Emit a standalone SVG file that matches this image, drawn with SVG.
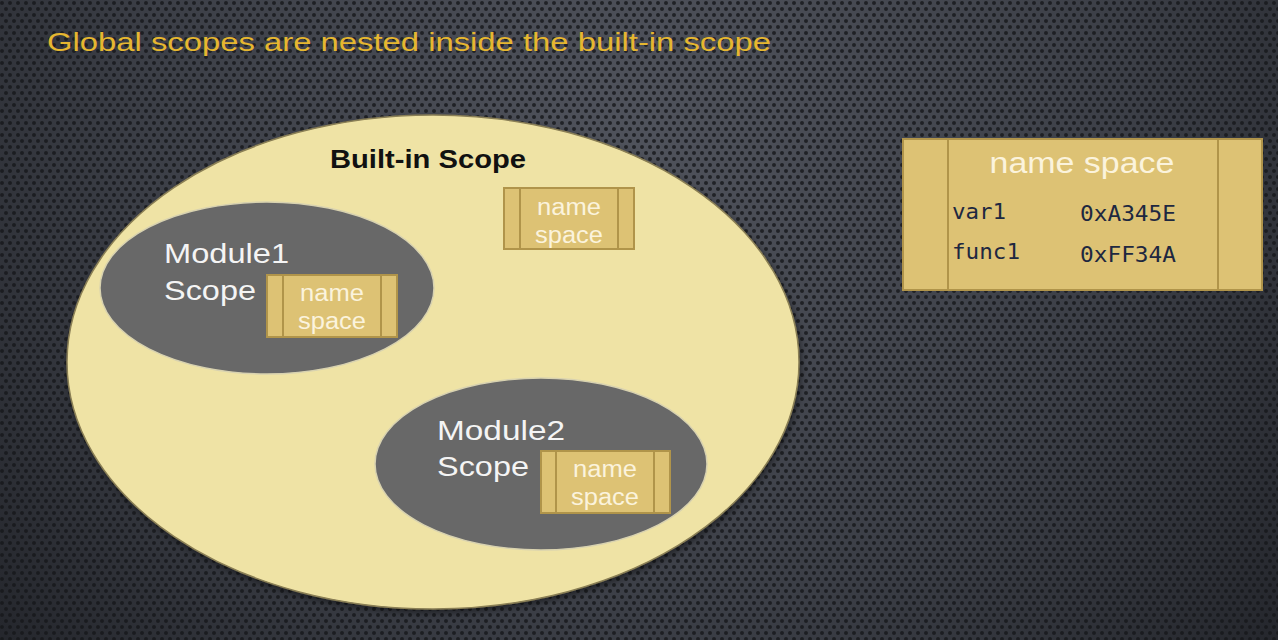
<svg xmlns="http://www.w3.org/2000/svg" width="1278" height="640" viewBox="0 0 1278 640">
  <defs>
    <radialGradient id="bgGlow" cx="640" cy="120" r="820" gradientUnits="userSpaceOnUse">
      <stop offset="0" stop-color="#50535c"/>
      <stop offset="0.6" stop-color="#3c3f47"/>
      <stop offset="1" stop-color="#25272d"/>
    </radialGradient>
    <pattern id="dots" width="8" height="12" patternUnits="userSpaceOnUse">
      <circle cx="2" cy="3" r="2" fill="#15161a" fill-opacity="0.8"/>
      <circle cx="6" cy="9" r="2" fill="#15161a" fill-opacity="0.8"/>
    </pattern>
    <filter id="shadow" x="-10%" y="-10%" width="120%" height="120%">
      <feDropShadow dx="2" dy="3" stdDeviation="3" flood-color="#000" flood-opacity="0.45"/>
    </filter>
  </defs>
  <style>
    .title { font-family: "Liberation Sans", Arial, sans-serif; font-size: 26px; fill: #e6b730; }
    .scope { fill: #686868; stroke: #d8d2b0; stroke-width: 1.5; }
    .scopeLabel { font-family: "Liberation Sans", Arial, sans-serif; font-size: 28px; fill: #f4f4f4; }
    .ns { fill: #ddc274; stroke: #b0944a; stroke-width: 2; }
    .nsLine { stroke: #b0944a; stroke-width: 2; }
    .nsText { font-family: "Liberation Sans", Arial, sans-serif; font-size: 23px; fill: #fbf3dc; text-anchor: middle; }
    .nsTitle { font-family: "Liberation Sans", Arial, sans-serif; font-size: 29px; fill: #fbf3dc; text-anchor: middle; }
    .mono { font-family: "DejaVu Sans Mono", "Liberation Mono", monospace; font-size: 22px; fill: #1e2840; }
  </style>

  <!-- perforated dark backdrop -->
  <rect width="1278" height="640" fill="url(#bgGlow)"/>
  <rect width="1278" height="640" fill="url(#dots)"/>

  <text class="title" x="47" y="51" textLength="724" lengthAdjust="spacingAndGlyphs">Global scopes are nested inside the built-in scope</text>

  <g id="builtin-scope">
    <ellipse cx="433" cy="362" rx="366" ry="247" fill="#efe3a5" stroke="#8a7f55" stroke-width="1.5" filter="url(#shadow)"/>
    <text x="330" y="168" font-family="Liberation Sans, Arial, sans-serif" font-size="26" font-weight="bold" fill="#111" textLength="196" lengthAdjust="spacingAndGlyphs">Built-in Scope</text>
  </g>

  <g id="builtin-namespace">
    <rect class="ns" x="504" y="188" width="130" height="61"/>
    <line class="nsLine" x1="520" y1="188" x2="520" y2="249"/>
    <line class="nsLine" x1="618" y1="188" x2="618" y2="249"/>
    <text class="nsText" x="569" y="215" textLength="64" lengthAdjust="spacingAndGlyphs">name</text>
    <text class="nsText" x="569" y="243" textLength="68" lengthAdjust="spacingAndGlyphs">space</text>
  </g>

  <g id="module1-scope">
    <ellipse class="scope" cx="267" cy="288" rx="167" ry="86"/>
    <text class="scopeLabel" x="164" y="263" textLength="125" lengthAdjust="spacingAndGlyphs">Module1</text>
    <text class="scopeLabel" x="164" y="300" textLength="92" lengthAdjust="spacingAndGlyphs">Scope</text>
  </g>

  <g id="module1-namespace">
    <rect class="ns" x="267" y="275" width="130" height="62"/>
    <line class="nsLine" x1="283" y1="275" x2="283" y2="337"/>
    <line class="nsLine" x1="381" y1="275" x2="381" y2="337"/>
    <text class="nsText" x="332" y="301" textLength="64" lengthAdjust="spacingAndGlyphs">name</text>
    <text class="nsText" x="332" y="329" textLength="68" lengthAdjust="spacingAndGlyphs">space</text>
  </g>

  <g id="module2-scope">
    <ellipse class="scope" cx="541" cy="464" rx="166" ry="86"/>
    <text class="scopeLabel" x="437" y="440" textLength="128" lengthAdjust="spacingAndGlyphs">Module2</text>
    <text class="scopeLabel" x="437" y="476" textLength="92" lengthAdjust="spacingAndGlyphs">Scope</text>
  </g>

  <g id="module2-namespace">
    <rect class="ns" x="541" y="451" width="129" height="62"/>
    <line class="nsLine" x1="556" y1="451" x2="556" y2="513"/>
    <line class="nsLine" x1="654" y1="451" x2="654" y2="513"/>
    <text class="nsText" x="605" y="477" textLength="64" lengthAdjust="spacingAndGlyphs">name</text>
    <text class="nsText" x="605" y="505" textLength="68" lengthAdjust="spacingAndGlyphs">space</text>
  </g>

  <g id="namespace-detail">
    <rect class="ns" x="903" y="139" width="359" height="151"/>
    <line class="nsLine" x1="948" y1="139" x2="948" y2="290"/>
    <line class="nsLine" x1="1218" y1="139" x2="1218" y2="290"/>
    <text class="nsTitle" x="1082" y="173" textLength="185" lengthAdjust="spacingAndGlyphs">name space</text>
    <text class="mono" x="952" y="219" textLength="54" lengthAdjust="spacingAndGlyphs">var1</text>
    <text class="mono" x="1080" y="221" textLength="96" lengthAdjust="spacingAndGlyphs">0xA345E</text>
    <text class="mono" x="952" y="259" textLength="68" lengthAdjust="spacingAndGlyphs">func1</text>
    <text class="mono" x="1080" y="262" textLength="96" lengthAdjust="spacingAndGlyphs">0xFF34A</text>
  </g>

  <!-- no connectors in this figure -->
  <g id="connectors"/>
</svg>
